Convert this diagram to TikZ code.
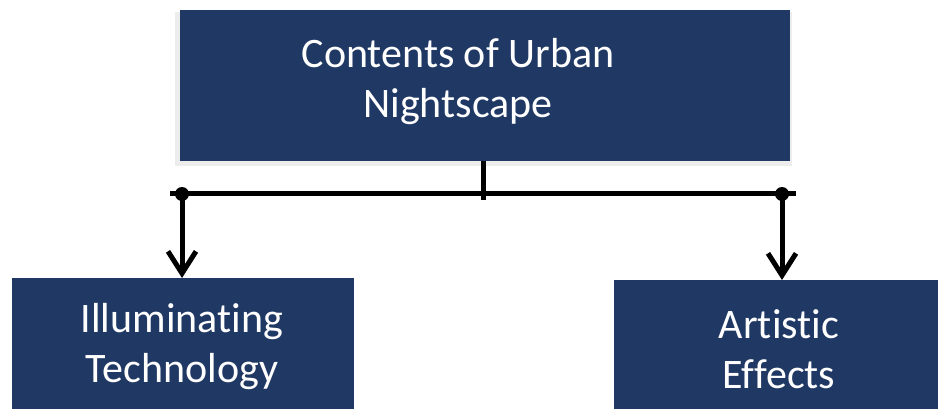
\documentclass[tikz,border=0pt]{standalone}
\usepackage{fontspec}
\setmainfont{Carlito}[Ligatures=NoCommon]
\usetikzlibrary{arrows.meta}
\definecolor{navy}{HTML}{203864}
\begin{document}
\begin{tikzpicture}[x=1pt,y=-1pt,
  box/.style={draw=none,fill=navy,inner sep=0pt,anchor=north west},
  lbl/.style={text=white,align=center,font=\fontsize{42}{50}\selectfont},
  conn/.style={line width=5pt,black},
  arr/.style={conn,-{Straight Barb[length=22pt,width=28pt,line width=5pt]}}]
\useasboundingbox (0,0) rectangle (938,409);
% soft shadow for top box
\fill[black!7] (175,12) rectangle (792,166);
\node[box,minimum width=610pt,minimum height=151pt] (top) at (180,10) {};
\node[box,minimum width=342pt,minimum height=140pt] (left) at (12,278) {};
\node[box,minimum width=340pt,minimum height=140pt] (right) at (614,280) {};
\node[lbl] (toptxt) at (458,82) {Contents of Urban\\Nightscape};
\node[lbl] (lefttxt) at (182,347) {Illuminating\\Technology};
\node[lbl] (righttxt) at (779,349) {Artistic\\Effects};
\coordinate (stem) at (483,200);
\coordinate (j1) at (182,194);
\coordinate (j2) at (782,194);
\coordinate (hl) at (170,194);
\coordinate (hr) at (796,194);
\draw[conn] (top.south -| stem) -- (stem);
\draw[conn] (hl) -- (hr);
\fill (j1) circle (7pt);
\fill (j2) circle (7pt);
\draw[arr] (j1) -- (left.north -| j1);
\draw[arr] (j2) -- (right.north -| j2);
\end{tikzpicture}
\end{document}
